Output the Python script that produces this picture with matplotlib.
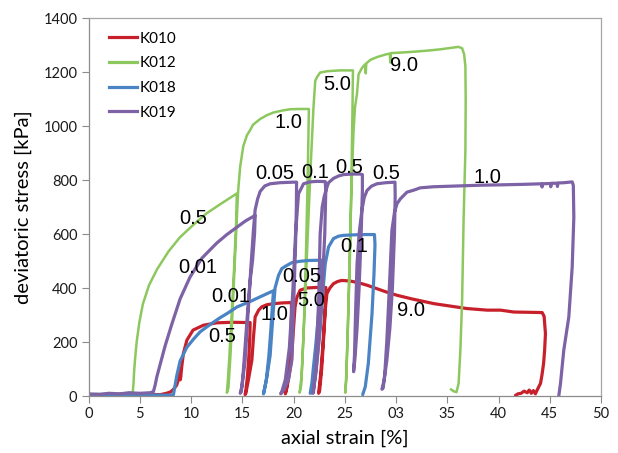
import matplotlib
matplotlib.use("Agg")
import matplotlib.pyplot as plt
from matplotlib.lines import Line2D

# ---------------- data (strain %, deviatoric stress kPa) ----------------
k010_strain = [0, 1, 2, 3, 4, 5, 6, 7, 7.6, 8.0, 8.3, 8.6, 8.85, 8.9, 8.95, 9.0, 9.1, 9.26, 9.6, 10.2, 11.2, 12.5, 14.0, 15.77,
               15.75, 15.65, 15.5, 15.35, 15.28,
               15.35, 15.6, 15.94, 16.1, 16.26, 16.6, 16.9, 17.4, 18.05, 19.0, 19.8,
               19.8, 19.7, 19.55, 19.4, 19.2,
               19.3, 19.55, 19.8, 20.0, 20.15, 20.33, 20.65, 21.3, 22.2, 23.15,
               23.15, 23.05, 22.85, 22.65, 22.45,
               22.55, 22.75, 22.95, 23.1, 23.26, 23.55, 23.9, 24.3, 24.7, 25.5, 26.3, 27.2, 28.1, 29.0, 30.1, 31.5,
               33.7, 35.3, 36.9, 38.9, 40.2, 41.5, 43.0, 44.26, 44.45, 44.58, 44.5, 44.4, 44.25, 44.1, 43.77,
               43.6, 43.4, 43.2, 43.0, 42.8, 42.5, 42.2, 41.9, 41.65]
k010_stress = [3, 2, 4, 3, 5, 4, 6, 5, 10, 15, 25, 40, 70, 100, 60, 70, 110, 158, 207, 244, 262, 271, 273, 272,
               230, 150, 70, 20, 5,
               10, 60, 133, 220, 293, 318, 330, 338, 342, 345, 346,
               300, 200, 110, 45, 8,
               20, 70, 133, 250, 330, 365, 392, 400, 402, 402,
               380, 300, 180, 80, 10,
               20, 100, 220, 320, 379, 400, 416, 424, 428, 426, 420, 410, 398, 386, 373, 360,
               342, 333, 324, 318, 318, 311, 310, 309, 295, 231, 170, 121, 80, 47, 22,
               8, 20, 10, 22, 12, 18, 10, 8, 2]

k012_strain = [0.0, 0.8, 1.6, 2.4, 3.2, 4.0, 4.3,
               4.38, 4.45, 4.55, 4.7, 4.95, 5.3, 5.9, 6.7, 7.8, 8.9, 10.2, 11.5, 13.0, 14.47,
               14.4, 14.2, 13.95, 13.75, 13.6, 13.5,
               13.65, 13.85, 14.1, 14.35, 14.6, 14.8, 15.1, 15.45, 15.77, 16.06, 16.75, 17.4, 18.05, 19.0, 19.68, 20.5, 21.5,
               21.45, 21.35, 21.2, 21.0, 20.8, 20.6,
               20.75, 20.95, 21.2, 21.45, 21.65, 21.8, 21.95, 22.12, 22.28, 22.6, 23.3, 24.56, 25.8,
               25.75, 25.65, 25.5, 25.3, 25.15, 25.05,
               25.15, 25.3, 25.54, 25.7, 25.86, 26.0, 26.19, 26.35, 26.68, 27.0, 27.05, 27.1, 27.5, 28.2, 29.1, 29.4,
               29.45, 29.5, 30.5, 32.05, 33.3, 34.33, 35.3, 36.1, 36.45, 36.65,
               36.77, 36.8, 36.77, 36.6, 36.45, 36.28, 36.11, 35.9, 35.6, 35.35]
k012_stress = [5, 8, 6, 10, 9, 12, 8,
               40, 90, 140, 200, 270, 340, 410, 470, 535, 587, 633, 676, 714, 750,
               640, 470, 290, 150, 60, 12,
               30, 150, 350, 560, 760, 850, 925, 965, 985, 1005, 1026, 1040, 1050, 1058, 1062, 1063, 1063,
               950, 750, 500, 250, 80, 12,
               40, 200, 420, 650, 830, 950, 1069, 1167, 1180, 1198, 1203, 1206, 1206,
               1050, 800, 500, 250, 80, 12,
               60, 250, 613, 820, 983, 1070, 1118, 1192, 1215, 1229, 1195, 1232, 1245, 1256, 1266, 1268,
               1235, 1270, 1272, 1276, 1280, 1284, 1289, 1293, 1288, 1265,
               1220, 1100, 909, 662, 355, 170, 47, 14, 18, 25]

k018_strain = [0, 2, 4, 6, 7.5, 8.28,
               8.45, 8.61, 8.94, 9.59, 10.23, 10.9, 11.87, 12.84, 13.5, 14.5, 15.77, 16.9, 18.05,
               17.95, 17.8, 17.6, 17.35, 17.07,
               17.15, 17.4, 17.72, 18.0, 18.2, 18.54, 18.86, 19.19, 19.84, 20.65, 21.5, 22.77,
               22.75, 22.6, 22.44, 22.2, 21.95, 21.8, 21.63,
               21.8, 22.1, 22.35, 22.6, 22.85, 23.1, 23.42, 23.9, 24.4, 24.88, 26.0, 27.0, 27.9,
               27.95, 27.85, 27.66, 27.3, 27.0, 26.75]
k018_stress = [2, 3, 2, 4, 3, 4,
               40, 75, 130, 180, 210, 238, 265, 290, 305, 330, 350, 370, 390,
               340, 250, 150, 60, 8,
               20, 70, 150, 300, 400, 447, 472, 480, 494, 499, 502, 503,
               450, 380, 305, 200, 108, 50, 10,
               12, 60, 150, 244, 380, 490, 552, 583, 592, 595, 597, 598, 598,
               560, 450, 305, 121, 34, 5]

k019_strain = [0, 1, 2, 3, 4, 5, 6, 6.33,
               6.5, 6.66, 6.98, 7.47, 8.12, 8.94, 9.9, 11.05, 12.5, 13.5, 14.47, 15.3, 16.26,
               16.2, 16.0, 15.77, 15.5, 15.28, 15.1, 14.96, 14.8,
               14.9, 15.05, 15.28, 15.55, 15.85, 16.1, 16.26, 16.5, 16.75, 17.2, 17.72, 18.7, 20.0, 20.3,
               20.28, 20.2, 20.05, 19.84, 19.5, 19.1, 18.75,
               18.85, 19.2, 19.6, 19.95, 20.2, 20.49, 20.98, 21.6, 22.28, 23.1,
               23.15, 23.05, 22.8, 22.5, 22.2, 21.9,
               21.95, 22.2, 22.45, 22.6, 22.8, 23.0, 23.26, 23.42, 23.9, 24.4, 24.88, 25.7, 26.5, 26.72,
               26.72, 26.6, 26.4, 26.2, 26.0, 25.86,
               25.95, 26.05, 26.2, 26.4, 26.68, 26.9, 27.17, 27.6, 28.14, 29.0, 29.9,
               29.92, 29.85, 29.65, 29.4, 29.1, 28.85, 28.63,
               28.75, 28.9, 29.1, 29.35, 29.6, 29.85, 30.1, 30.42, 31.07, 31.7, 32.37, 33.67, 35.3, 36.93, 38.5,
               40.19, 42.5, 44.2, 44.25, 44.3, 45.07, 45.1, 45.15, 45.72, 45.75, 45.8, 46.4, 47.19,
               47.3, 47.35, 47.19, 46.86, 46.37, 46.05, 45.88]
k019_stress = [8, 6, 10, 8, 12, 10, 12, 16,
               40, 70, 115, 185, 265, 360, 440, 510, 566, 598, 625, 648, 669,
               600, 500, 428, 300, 182, 90, 34, 10,
               15, 60, 133, 300, 480, 620, 690, 730, 758, 778, 786, 790, 792, 792,
               700, 560, 380, 133, 60, 25, 8,
               15, 60, 180, 400, 600, 749, 786, 793, 795, 794,
               760, 600, 400, 220, 90, 10,
               15, 120, 350, 600, 700, 740, 773, 790, 806, 815, 820, 822, 822, 820,
               760, 600, 400, 250, 140, 90,
               150, 300, 490, 600, 690, 735, 761, 777, 786, 790, 792,
               740, 600, 400, 250, 130, 60, 25,
               30, 80, 200, 400, 613, 680, 712, 730, 755, 762, 771, 775, 777, 779, 781,
               782, 784, 786, 774, 786, 787, 775, 788, 788, 776, 789, 790, 793,
               780, 662, 478, 293, 170, 47, 0]

series_names = ["K010", "K012", "K018", "K019"]
series_colors = ["#C8202B", "#8DC85F", "#4A84C4", "#7D62A6"]

# annotation labels (text, strain, stress)
ann_text = ["0.5", "1.0", "5.0", "9.0",
            "0.5", "1.0", "5.0", "9.0",
            "0.01", "0.05", "0.1",
            "0.01", "0.05", "0.1", "0.5", "0.5", "1.0"]
ann_strain = [10.2, 19.5, 24.3, 30.8,
              13.05, 18.1, 21.75, 31.5,
              13.9, 20.85, 25.95,
              10.7, 18.2, 22.1, 25.45, 29.05, 38.9]
ann_stress = [657, 1013, 1153, 1223,
              222, 300, 355, 318,
              370, 443, 554,
              477, 823, 827, 847, 823, 809]

xtick_vals = [0, 5, 10, 15, 20, 25, 30, 35, 40, 45, 50]
xtick_labels = ["0", "5", "10", "15", "20", "25", "03", "35", "40", "45", "50"]
ytick_vals = [0, 200, 400, 600, 800, 1000, 1200, 1400]

# ---------------- figure ----------------
fig = plt.figure(figsize=(6.18, 4.53), dpi=100)
ax = fig.add_axes([88.5 / 618, 1 - 396 / 453, 512.5 / 618, 378 / 453])

data = [(k010_strain, k010_stress), (k012_strain, k012_stress),
        (k018_strain, k018_stress), (k019_strain, k019_stress)]
widths = [2.3, 1.8, 2.3, 2.3]
for (xs, ys), c, lw, name in zip(data, series_colors, widths, series_names):
    ax.plot(xs, ys, color=c, lw=lw, solid_joinstyle="round", solid_capstyle="round", label=name)

for t, x, y in zip(ann_text, ann_strain, ann_stress):
    ax.text(x, y, t, fontsize=14.5, family="Liberation Sans", ha="center", va="center", color="black")

ax.set_xlim(0, 50)
ax.set_ylim(0, 1400)
ax.set_xticks(xtick_vals)
ax.set_xticklabels(xtick_labels)
ax.set_yticks(ytick_vals)
for lab in ax.get_xticklabels() + ax.get_yticklabels():
    lab.set_family("Lato")
    lab.set_fontsize(10.5)
    lab.set_color("#1a1a1a")
ax.tick_params(direction="out", length=5, width=0.8, color="#8c8c8c", pad=3)
for s in ax.spines.values():
    s.set_color("#a6a6a6")
    s.set_linewidth(0.9)
ax.spines["left"].set_color("#8c8c8c")
ax.spines["bottom"].set_color("#8c8c8c")

ax.set_xlabel("axial strain [%]", fontsize=14.5, family="Lato", labelpad=6)
ax.set_ylabel("deviatoric stress [kPa]", fontsize=14.5, family="Lato", labelpad=8)

handles = [Line2D([0], [0], color=c, lw=2.3) for c in series_colors]
leg = ax.legend(handles, series_names, loc="upper left", bbox_to_anchor=(0.0406, 0.964),
                frameon=False, borderpad=0, borderaxespad=0, handlelength=1.79,
                handletextpad=0.18, labelspacing=0.7, prop={"family": "Lato", "size": 11})

fig.savefig("out.png", dpi=100)
